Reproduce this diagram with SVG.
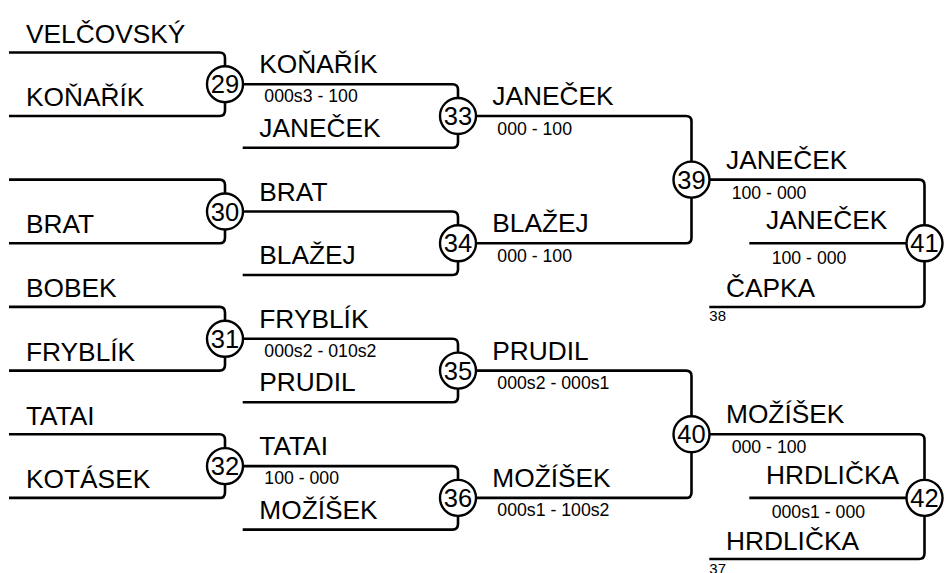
<svg xmlns="http://www.w3.org/2000/svg" width="946" height="573" viewBox="0 0 946 573">
<style>
.ln{fill:none;stroke:#000;stroke-width:2.6;stroke-linecap:butt}
.c{fill:#fff;stroke:#000;stroke-width:2.4}
.num{font-family:"Liberation Sans",Arial,sans-serif;font-size:25.5px;text-anchor:middle;fill:#000}
.nm{font-family:"Liberation Sans",Arial,sans-serif;font-size:26.3px;fill:#000}
.sc{font-family:"Liberation Sans",Arial,sans-serif;font-size:17.7px;fill:#000}
.sm{font-family:"Liberation Sans",Arial,sans-serif;font-size:15px;fill:#000}
</style>
<rect width="946" height="573" fill="#fff"/>
<g id="connectors">
<path class="ln" d="M9,52.5 H219.5 Q225,52.5 225,58 V110.5 Q225,116 219.5,116 H9"/>
<path class="ln" d="M9,179.6 H219.5 Q225,179.6 225,185.1 V237.8 Q225,243.3 219.5,243.3 H9"/>
<path class="ln" d="M9,306.9 H219.5 Q225,306.9 225,312.4 V365.1 Q225,370.6 219.5,370.6 H9"/>
<path class="ln" d="M9,434.2 H219.5 Q225,434.2 225,439.7 V492.4 Q225,497.9 219.5,497.9 H9"/>
<path class="ln" d="M225,84.2 H452.5 Q458,84.2 458,89.7 V142.2 Q458,147.7 452.5,147.7 H242.7"/>
<path class="ln" d="M225,211.5 H452.5 Q458,211.5 458,217 V269.5 Q458,275 452.5,275 H242.7"/>
<path class="ln" d="M225,338.8 H452.5 Q458,338.8 458,344.3 V396.8 Q458,402.3 452.5,402.3 H242.7"/>
<path class="ln" d="M225,466.1 H452.5 Q458,466.1 458,471.6 V524.1 Q458,529.6 452.5,529.6 H242.7"/>
<path class="ln" d="M458,116 H686 Q691.5,116 691.5,121.5 V237.8 Q691.5,243.3 686,243.3 H458"/>
<path class="ln" d="M458,370.6 H686 Q691.5,370.6 691.5,376.1 V492.4 Q691.5,497.9 686,497.9 H458"/>
<path class="ln" d="M691.5,179.65 H919 Q924.5,179.65 924.5,185.15 V301.5 Q924.5,307 919,307 H709.3"/>
<path class="ln" d="M749.3,243.3 H924.5"/>
<path class="ln" d="M691.5,434.25 H919 Q924.5,434.25 924.5,439.75 V553.5 Q924.5,559 919,559 H709.3"/>
<path class="ln" d="M749.3,497.9 H924.5"/>
</g>
<g id="m29"><circle class="c" cx="225" cy="84.2" r="18"/><text class="num" x="225" y="93.2">29</text></g>
<g id="m30"><circle class="c" cx="225" cy="211.5" r="18"/><text class="num" x="225" y="220.5">30</text></g>
<g id="m31"><circle class="c" cx="225" cy="338.8" r="18"/><text class="num" x="225" y="347.8">31</text></g>
<g id="m32"><circle class="c" cx="225" cy="466.1" r="18"/><text class="num" x="225" y="475.1">32</text></g>
<g id="m33"><circle class="c" cx="458" cy="116" r="18"/><text class="num" x="458" y="125">33</text></g>
<g id="m34"><circle class="c" cx="458" cy="243.3" r="18"/><text class="num" x="458" y="252.3">34</text></g>
<g id="m35"><circle class="c" cx="458" cy="370.6" r="18"/><text class="num" x="458" y="379.6">35</text></g>
<g id="m36"><circle class="c" cx="458" cy="497.9" r="18"/><text class="num" x="458" y="506.9">36</text></g>
<g id="m39"><circle class="c" cx="691.5" cy="179.65" r="18"/><text class="num" x="691.5" y="188.65">39</text></g>
<g id="m40"><circle class="c" cx="691.5" cy="434.25" r="18"/><text class="num" x="691.5" y="443.25">40</text></g>
<g id="m41"><circle class="c" cx="924.5" cy="243.3" r="18"/><text class="num" x="924.5" y="252.3">41</text></g>
<g id="m42"><circle class="c" cx="924.5" cy="497.9" r="18"/><text class="num" x="924.5" y="506.9">42</text></g>
<g id="round1-names">
<text class="nm" x="26" y="42.7">VELČOVSKÝ</text>
<text class="nm" x="26" y="106">KOŇAŘÍK</text>
<text class="nm" x="26" y="233.3">BRAT</text>
<text class="nm" x="26" y="297">BOBEK</text>
<text class="nm" x="26" y="360.6">FRYBLÍK</text>
<text class="nm" x="26" y="424.5">TATAI</text>
<text class="nm" x="26" y="487.9">KOTÁSEK</text>
</g>
<g id="round2-names">
<text class="nm" x="259.3" y="73.2">KOŇAŘÍK</text>
<text class="sc" x="264.3" y="102.2">000s3 - 100</text>
<text class="nm" x="259.3" y="136.7">JANEČEK</text>
<text class="nm" x="259.3" y="200.5">BRAT</text>
<text class="nm" x="259.3" y="264">BLAŽEJ</text>
<text class="nm" x="259.3" y="327.8">FRYBLÍK</text>
<text class="sc" x="264.3" y="356.8">000s2 - 010s2</text>
<text class="nm" x="259.3" y="391.3">PRUDIL</text>
<text class="nm" x="259.3" y="455.1">TATAI</text>
<text class="sc" x="264.3" y="484.1">100 - 000</text>
<text class="nm" x="259.3" y="518.6">MOŽÍŠEK</text>
</g>
<g id="round3-names">
<text class="nm" x="492.3" y="105">JANEČEK</text>
<text class="sc" x="497.3" y="134.5">000 - 100</text>
<text class="nm" x="492.3" y="232.3">BLAŽEJ</text>
<text class="sc" x="497.3" y="261.8">000 - 100</text>
<text class="nm" x="492.3" y="359.6">PRUDIL</text>
<text class="sc" x="497.3" y="389.1">000s2 - 000s1</text>
<text class="nm" x="492.3" y="486.9">MOŽÍŠEK</text>
<text class="sc" x="497.3" y="516.4">000s1 - 100s2</text>
</g>
<g id="round4-names">
<text class="nm" x="726" y="168.8">JANEČEK</text>
<text class="sc" x="731.7" y="198.7">100 - 000</text>
<text class="nm" x="766" y="229.3">JANEČEK</text>
<text class="sc" x="771.7" y="263.8">100 - 000</text>
<text class="nm" x="726" y="297">ČAPKA</text>
<text class="sm" x="709.3" y="321">38</text>
<text class="nm" x="726" y="423.3">MOŽÍŠEK</text>
<text class="sc" x="731.7" y="453">000 - 100</text>
<text class="nm" x="766" y="483.9">HRDLIČKA</text>
<text class="sc" x="771.7" y="518.4">000s1 - 000</text>
<text class="nm" x="726" y="549.5">HRDLIČKA</text>
<text class="sm" x="709.3" y="574">37</text>
</g>
</svg>
